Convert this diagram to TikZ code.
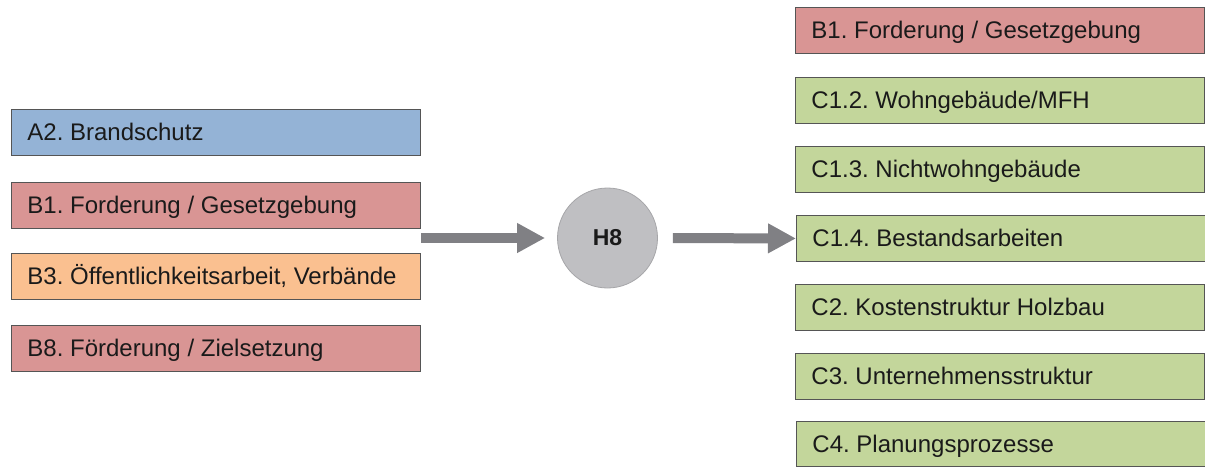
\documentclass[tikz,border=0pt]{standalone}
\usepackage{fontspec}
\setmainfont{Liberation Sans}
\usetikzlibrary{arrows.meta}
\frenchspacing
\definecolor{cblue}{RGB}{148,179,214}
\definecolor{cred}{RGB}{217,149,148}
\definecolor{corange}{RGB}{250,192,144}
\definecolor{cgreen}{RGB}{195,214,155}
\definecolor{ccircle}{RGB}{191,191,194}
\definecolor{carrow}{RGB}{128,128,132}
\definecolor{cborder}{RGB}{85,85,85}
\definecolor{ctext}{RGB}{26,26,26}
\newcommand{\lbltext}[1]{\makebox[377pt][l]{#1}}
\tikzset{
  itembox/.style={draw=cborder, line width=0.9pt, rectangle, anchor=north west,
    minimum width=409pt, minimum height=46pt, inner xsep=16pt, inner ysep=0pt,
    font=\frenchspacing\fontsize{24}{28}\selectfont,
    text=ctext, text height=21.5pt, text depth=4.8pt},
  hub/.style={circle, draw=carrow!70, line width=0.8pt, fill=ccircle, minimum size=100pt,
    inner sep=0pt, font=\bfseries\fontsize{23}{26}\selectfont, text=ctext},
  bigarrow/.style={draw=carrow, line width=10pt, -{Triangle[length=28pt,width=28pt]}}
}
\begin{document}
\begin{tikzpicture}[x=1pt,y=-1pt]
\useasboundingbox (0,0) rectangle (1205,466);
% left column
\node[itembox, fill=cblue]   (a2)  at (11,109) {\lbltext{A2. Brandschutz}};
\node[itembox, fill=cred]    (b1l) at (11,182) {\lbltext{B1. Forderung / Gesetzgebung}};
\node[itembox, fill=corange] (b3)  at (11,253) {\lbltext{B3. Öffentlichkeitsarbeit, Verbände}};
\node[itembox, fill=cred]    (b8)  at (11,325) {\lbltext{B8. Förderung / Zielsetzung}};
% hub
\node[hub] (h8) at (607.5,238) {H8};
% right column
\node[itembox, fill=cred]   (b1r) at (795,7)   {\lbltext{B1. Forderung / Gesetzgebung}};
\node[itembox, fill=cgreen] (c12) at (795,77)  {\lbltext{C1.2. Wohngebäude/MFH}};
\node[itembox, fill=cgreen] (c13) at (795,146) {\lbltext{C1.3. Nichtwohngebäude}};
\node[itembox, fill=cgreen] (c14) at (796,215) {\lbltext{C1.4. Bestandsarbeiten}};
\node[itembox, fill=cgreen] (c2)  at (795,284) {\lbltext{C2. Kostenstruktur Holzbau}};
\node[itembox, fill=cgreen] (c3)  at (795,353) {\lbltext{C3. Unternehmensstruktur}};
\node[itembox, fill=cgreen, minimum height=45pt] (c4) at (796,421) {\lbltext{C4. Planungsprozesse}};
% arrows
\coordinate (lstart) at (421,238);
\draw[bigarrow, shorten >=12pt] (lstart) -- (h8.west);
\draw[bigarrow, shorten <=15pt] (h8.east) -- (c14.west);
\end{tikzpicture}
\end{document}
